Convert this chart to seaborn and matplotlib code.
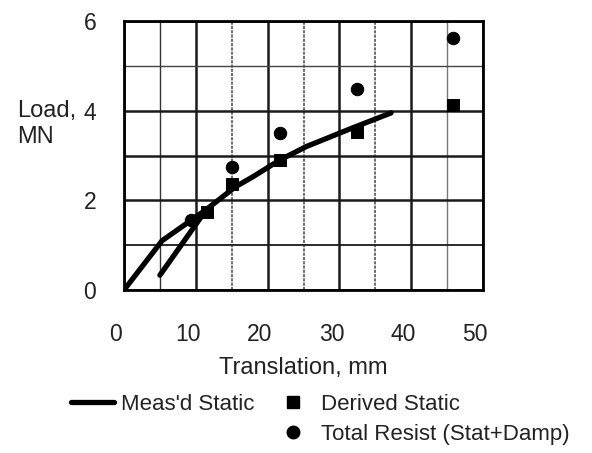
import matplotlib
matplotlib.use("Agg")
import matplotlib.pyplot as plt
import matplotlib.transforms as mtransforms
from matplotlib.lines import Line2D
import seaborn as sns
import pandas as pd

# ---- data ----
meas_x = [0, 5.3, 9.3, 11.5, 15.5, 18.0, 21.7, 25.4, 31.9, 37.2]
meas_y = [0, 1.10, 1.55, 1.80, 2.30, 2.53, 2.90, 3.20, 3.62, 3.95]
meas2_x = [5.0, 11.5]
meas2_y = [0.33, 1.80]
derived_x = [11.5, 15.1, 21.7, 32.4, 45.8]
derived_y = [1.75, 2.36, 2.90, 3.53, 4.13]
total_x = [9.3, 15.1, 21.7, 32.4, 45.8]
total_y = [1.56, 2.75, 3.51, 4.48, 5.61]
x_ticks = [0, 10, 20, 30, 40, 50]
y_ticks = [0, 2, 4, 6]

sns.set_theme(style="white")
plt.rcParams['font.family'] = ['Liberation Sans', 'DejaVu Sans']

W, H = 592, 453
fig = plt.figure(figsize=(W / 100, H / 100), dpi=100)
L, R, T, B = 124, 483, 21, 290
ax = fig.add_axes([L / W, 1 - B / H, (R - L) / W, (B - T) / H])

# grid lines
for gx in range(0, 51, 5):
    if gx % 10 == 0:
        ax.axvline(gx, color="#1a1a1a", lw=1.8, zorder=0)
    elif gx == 5:
        ax.axvline(gx, color="#333333", lw=1.0, zorder=0)
    elif gx == 45:
        ax.axvline(gx, color="#777777", lw=1.0, zorder=0)
    else:
        ax.axvline(gx, color="#444444", lw=1.1, ls=(0, (2, 0.8)), zorder=0)
for gy in range(0, 7):
    if gy == 5:
        ax.axhline(gy, color="#444444", lw=1.0, zorder=0)
    elif gy == 1:
        ax.axhline(gy, color="#1a1a1a", lw=1.3, zorder=0)
    else:
        ax.axhline(gy, color="#1a1a1a", lw=1.8, zorder=0)

df_meas = pd.DataFrame({"x": meas_x, "y": meas_y})
df_meas2 = pd.DataFrame({"x": meas2_x, "y": meas2_y})
df_der = pd.DataFrame({"x": derived_x, "y": derived_y})
df_tot = pd.DataFrame({"x": total_x, "y": total_y})

sns.lineplot(data=df_meas, x="x", y="y", sort=False, color="black", lw=3.8,
             ax=ax, legend=False, zorder=3)
sns.lineplot(data=df_meas2, x="x", y="y", sort=False, color="black", lw=3.8,
             ax=ax, legend=False, zorder=3)
sns.scatterplot(data=df_der, x="x", y="y", marker="s", s=75, color="black",
                edgecolor="black", ax=ax, legend=False, zorder=4)
sns.scatterplot(data=df_tot, x="x", y="y", marker="o", s=80, color="black",
                edgecolor="black", ax=ax, legend=False, zorder=4)

ax.set_xlim(0, 50)
ax.set_ylim(0, 6)
ax.set_xticks(x_ticks)
ax.set_xticks(range(0, 51, 5), minor=True)
ax.set_yticks(y_ticks)
ax.set_yticks(range(0, 7), minor=True)
ax.tick_params(axis="both", which="both", direction="inout", length=8,
               width=1.6, color="black", labelsize=16.5, labelcolor="#222222")
ax.tick_params(axis="x", which="major", pad=20)
ax.tick_params(axis="y", which="major", pad=16)
offset = mtransforms.ScaledTranslation(-8 / 100, 0, fig.dpi_scale_trans)
for lab in ax.get_xticklabels():
    lab.set_transform(lab.get_transform() + offset)

for s in ax.spines.values():
    s.set_color("black")
    s.set_linewidth(2.0)

ax.set_xlabel("Translation, mm", fontsize=17, color="#222222", labelpad=8)
ax.set_ylabel("Load,\nMN", fontsize=17, color="#222222", rotation=0,
              ha="left", va="center", multialignment="left")
ax.yaxis.set_label_coords((17 - L) / (R - L), 1 - (124 - T) / (B - T))

handles = [
    Line2D([], [], color="black", lw=3.8),
    Line2D([], [], color="none", lw=0),
    Line2D([], [], color="black", marker="s", ls="none", markersize=8),
    Line2D([], [], color="black", marker="o", ls="none", markersize=9),
]
labels = ["Meas'd Static", "", "Derived Static", "Total Resist (Stat+Damp)"]
fig.legend(handles, labels, ncol=2, loc="upper left",
           bbox_to_anchor=(60 / W, 1 - 383 / H), frameon=False, fontsize=16,
           handlelength=1.95, handletextpad=0.3, columnspacing=0.75,
           labelspacing=0.4, borderpad=0, labelcolor="#222222")

fig.savefig("out.png", dpi=100)
